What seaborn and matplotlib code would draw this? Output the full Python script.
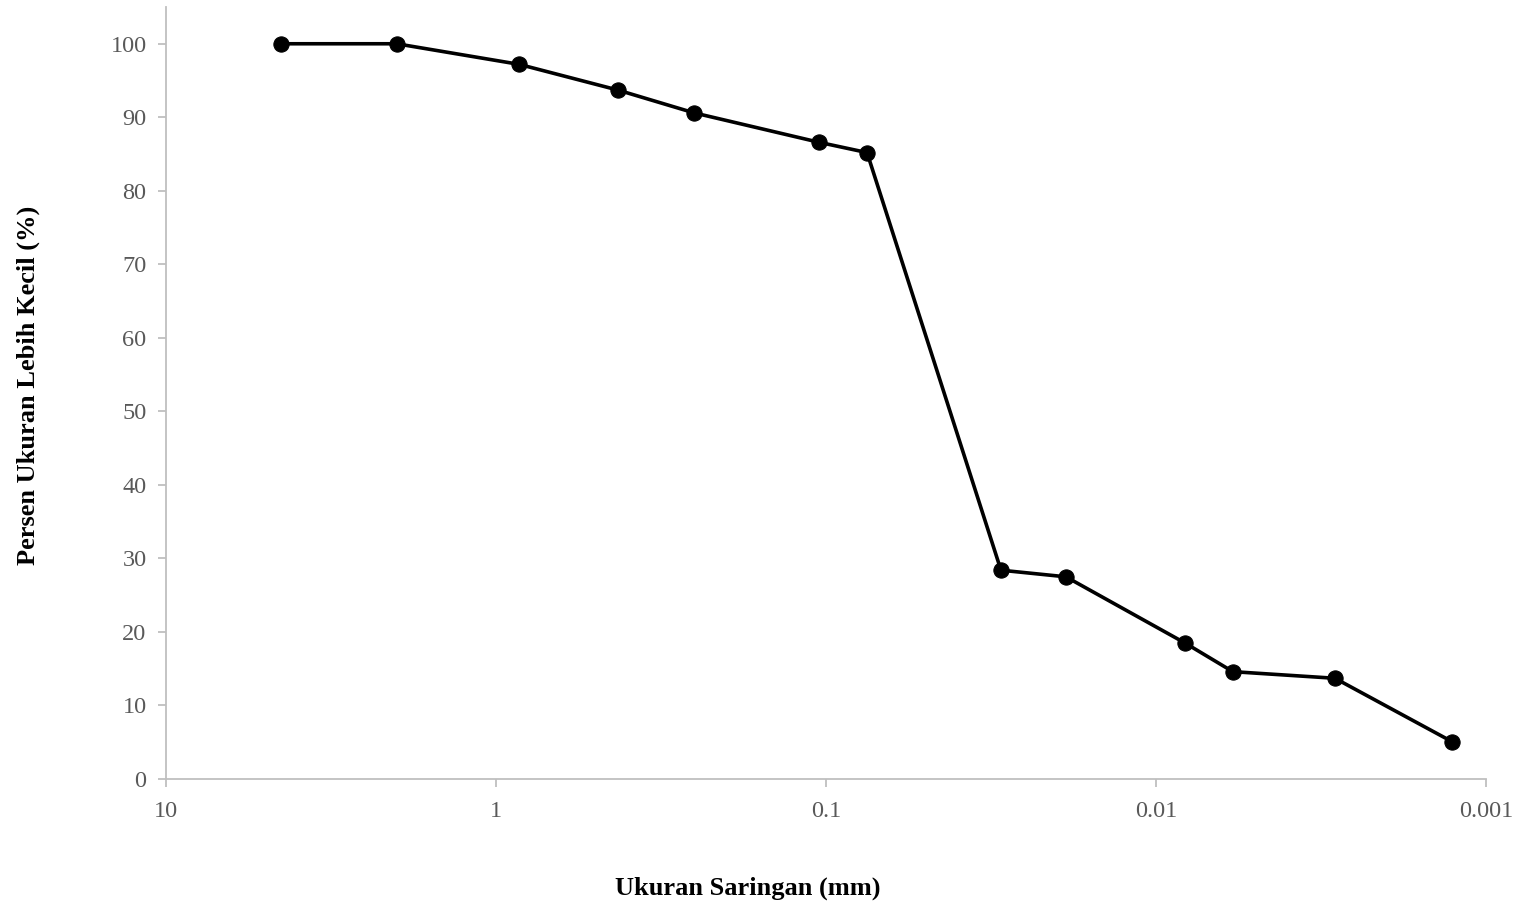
import matplotlib
matplotlib.use("Agg")
import matplotlib.pyplot as plt
import seaborn as sns
import pandas as pd
from matplotlib.ticker import FixedLocator, FixedFormatter, NullLocator

sieve_mm = [4.49, 2.0, 0.851, 0.427, 0.251, 0.105, 0.0751, 0.0295, 0.01875, 0.00817, 0.00585, 0.00287, 0.00127]
percent_finer = [100, 100, 97.2, 93.7, 90.6, 86.6, 85.2, 28.4, 27.5, 18.5, 14.6, 13.7, 5.1]
x_ticks = [10, 1, 0.1, 0.01, 0.001]
x_tick_labels = ["10", "1", "0.1", "0.01", "0.001"]
y_ticks = [0, 10, 20, 30, 40, 50, 60, 70, 80, 90, 100]

df = pd.DataFrame({"size": sieve_mm, "pct": percent_finer})

sns.set_theme(style="white")
plt.rcParams['font.family'] = ['Liberation Serif', 'DejaVu Serif']

fig = plt.figure(figsize=(15.2, 9.07), dpi=100)
ax = fig.add_axes([166/1520, 1-779/907, (1486-166)/1520, (779-7)/907])

sns.lineplot(data=df, x="size", y="pct", ax=ax, color="black", linewidth=2.6,
             marker="o", markersize=11, markeredgecolor="black", markerfacecolor="black",
             sort=False, estimator=None)

ax.set_xscale("log")
ax.set_xlim(10, 0.001)
ax.set_ylim(0, 105)
ax.xaxis.set_major_locator(FixedLocator(x_ticks))
ax.xaxis.set_major_formatter(FixedFormatter(x_tick_labels))
ax.xaxis.set_minor_locator(NullLocator())
ax.set_yticks(y_ticks)

for s in ["top", "right"]:
    ax.spines[s].set_visible(False)
for s in ["left", "bottom"]:
    ax.spines[s].set_color("#bfbfbf")
    ax.spines[s].set_linewidth(1.3)

ax.tick_params(axis="both", which="major", direction="out", length=6, width=1.3,
               color="#bfbfbf", labelcolor="#595959", labelsize=17.5, bottom=True, left=True)
ax.tick_params(axis="x", pad=10)
ax.tick_params(axis="y", pad=8)

ax.set_xlabel("")
ax.set_ylabel("")
fig.text(748/1520, 1-888/907, "Ukuran Saringan (mm)", fontsize=19, fontweight="bold",
         color="black", ha="center", va="center")
fig.text(28/1520, 1-385/907, "Persen Ukuran Lebih Kecil (%)", fontsize=19, fontweight="bold",
         color="black", ha="center", va="center", rotation=90)
ax.grid(False)

fig.savefig("out.png", dpi=100)
